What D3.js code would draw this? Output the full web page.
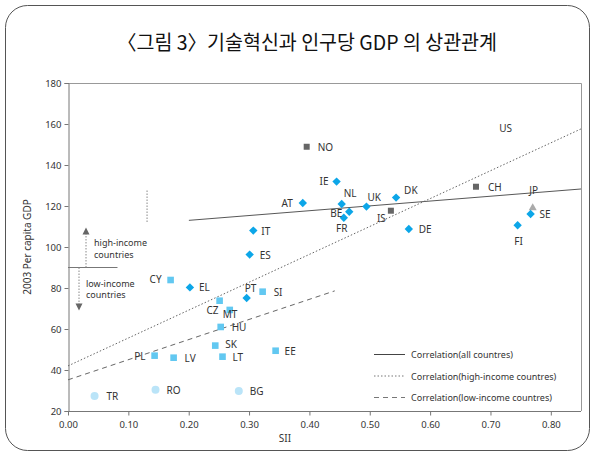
<!DOCTYPE html>
<html><head><meta charset="utf-8">
<script src="https://cdn.jsdelivr.net/npm/d3@7"></script>
<style>
html,body{margin:0;padding:0;background:#fff;}
svg text{font-family:"Noto Sans","Noto Sans CJK KR",sans-serif;fill:#333;}
</style></head>
<body>
<svg id="c" width="594" height="453"></svg>
<script>
// ---- data ----
const highIncome = [ // diamonds
  ["AT",0.389,121.5],["IE",0.445,131.9],["NL",0.4535,121],["BE",0.466,117.2],["FR",0.457,114.3],
  ["UK",0.4945,119.7],["DK",0.5436,124.1],["DE",0.5647,108.8],["FI",0.745,110.6],["SE",0.7665,116.1],
  ["IT",0.307,108],["ES",0.301,96.3],["EL",0.202,80.3],["PT",0.296,75.1]
];
const nonEU = [["NO",0.3955,148.9],["IS",0.535,117.7],["CH",0.676,129.4]]; // grey squares
const japan = [["JP",0.770,119.4]]; // triangle
const newMembers = [ // light blue squares
  ["CY",0.170,83.9],["CZ",0.2512,73.8],["MT",0.268,69.3],["SI",0.3225,78.2],["HU",0.253,61],
  ["SK",0.244,51.9],["LT",0.256,46.5],["LV",0.175,46],["PL",0.1435,47],["EE",0.344,49.4]
];
const candidates = [["TR",0.044,27.3],["RO",0.145,30.4],["BG",0.283,29.8]]; // circles
const usLabel = [["US",0.725,156]];
const lineAll = [[0.2003,113.0],[0.85,128.3]];
const lineHigh = [[0,42.0],[0.85,157.6]];
const lineLow = [[0,35.2],[0.442,78.6]];
const xTicks = [0,0.1,0.2,0.3,0.4,0.5,0.6,0.7,0.8];
const yTicks = [20,40,60,80,100,120,140,160,180];
const legendItems = ["Correlation(all countres)","Correlation(high-income countres)","Correlation(low-income countres)"];

// label placement (dx, dy, anchor)
const labelPos = {
  AT:[-10,4,"end"], IE:[-8,3,"end"], NL:[2,-7,"start"], BE:[-7,5,"end"], FR:[-2,14,"middle"],
  UK:[1,-6,"start"], DK:[8,-4,"start"], DE:[10,4,"start"], FI:[1,20,"middle"], SE:[9,4,"start"],
  IT:[8,4,"start"], ES:[10,4,"start"], EL:[9,4,"start"], PT:[-2,-6,"start"],
  NO:[11,4,"start"], IS:[-14,11,"start"], CH:[12,4,"start"], JP:[1,-13,"middle"],
  CY:[-9,3,"end"], CZ:[-1,13,"end"], MT:[-7,8,"start"], SI:[11,4,"start"], HU:[11,4,"start"],
  SK:[10,2,"start"], LT:[10,4,"start"], LV:[11,4,"start"], PL:[-9,4,"end"], EE:[9,4,"start"],
  TR:[12,4,"start"], RO:[11,4,"start"], BG:[11,4,"start"], US:[0,0,"middle"]
};

const svg = d3.select("#c");
// frame
svg.append("rect").attr("x",5.5).attr("y",5.5).attr("width",584).attr("height",445)
  .attr("rx",22).attr("fill","none").attr("stroke","#555").attr("stroke-width",1);
svg.append("text").attr("x",307).attr("y",50).attr("text-anchor","middle")
  .style("font-family","'Noto Sans CJK KR',sans-serif").style("font-size","20px").style("fill","#111")
  .attr("textLength",380).attr("lengthAdjust","spacingAndGlyphs")
  .text("〈그림 3〉기술혁신과 인구당 GDP 의 상관관계");

const L=68, R=581, T=83, B=411;
const x = d3.scaleLinear().domain([0,0.85]).range([L,R]);
const y = d3.scaleLinear().domain([20,180]).range([B,T]);

// frame of plot
svg.append("path").attr("d",`M${L},${T+0.5}H${R+0.5}V${B}`).attr("fill","none").attr("stroke","#999");

const gx = svg.append("g").attr("transform",`translate(0,${B+0.5})`)
  .call(d3.axisBottom(x).tickValues(xTicks).tickFormat(d3.format(".2f")).tickSize(4).tickPadding(6));
const gy = svg.append("g").attr("transform",`translate(${L+0.5},0)`)
  .call(d3.axisLeft(y).tickValues(yTicks).tickSize(4).tickPadding(3));
[gx,gy].forEach(g=>{
  g.select(".domain").attr("stroke","#777");
  g.selectAll(".tick line").attr("stroke","#777");
  g.selectAll("text").style("font-size","9.5px").style("fill","#333").style("font-family","'Noto Sans',sans-serif");
});
gx.select(".domain").attr("d",`M${L},0H${R}`);

svg.append("text").attr("x",285).attr("y",442).attr("text-anchor","middle").style("font-size","10px").text("SII");
svg.append("text").attr("transform","translate(31,247) rotate(-90)").attr("text-anchor","middle")
  .style("font-size","10px").text("2003 Per capita GDP");

// regression lines
const line = d3.line().x(d=>x(d[0])).y(d=>y(d[1]));
svg.append("path").attr("d",line(lineAll)).attr("stroke","#444").attr("fill","none").attr("stroke-width",0.9);
svg.append("path").attr("d",line(lineHigh)).attr("stroke","#666").attr("fill","none").attr("stroke-width",1).attr("stroke-dasharray","1.5,2");
svg.append("path").attr("d",line(lineLow)).attr("stroke","#666").attr("fill","none").attr("stroke-width",1).attr("stroke-dasharray","5,4");

// annotations: income split
svg.append("line").attr("x1",x(0)).attr("x2",x(0.082)).attr("y1",y(90)).attr("y2",y(90)).attr("stroke","#777");
svg.append("line").attr("x1",x(0.131)).attr("x2",x(0.131)).attr("y1",y(112.2)).attr("y2",y(127.8)).attr("stroke","#888").attr("stroke-dasharray","1.5,1.5");
svg.append("line").attr("x1",86).attr("x2",86).attr("y1",y(90)).attr("y2",y(107.5)).attr("stroke","#888").attr("stroke-dasharray","1.5,1.5");
svg.append("path").attr("d",`M86,${y(109.5)}l-3.5,7h7z`).attr("fill","#666");
svg.append("line").attr("x1",79).attr("x2",79).attr("y1",y(90)).attr("y2",y(71)).attr("stroke","#888").attr("stroke-dasharray","1.5,1.5");
svg.append("path").attr("d",`M79,${y(69)}l-3.5,-7h7z`).attr("fill","#666");
const annoFont = "9px";
svg.append("text").attr("x",94).attr("y",246).style("font-size",annoFont).text("high-income");
svg.append("text").attr("x",94).attr("y",257.5).style("font-size",annoFont).text("countries");
svg.append("text").attr("x",86).attr("y",286.5).style("font-size",annoFont).text("low-income");
svg.append("text").attr("x",86).attr("y",298).style("font-size",annoFont).text("countries");

// markers
const g = svg.append("g");
function labels(data){
  g.selectAll(null).data(data).enter().append("text")
   .attr("x",d=>x(d[1])+labelPos[d[0]][0]).attr("y",d=>y(d[2])+labelPos[d[0]][1])
   .attr("text-anchor",d=>labelPos[d[0]][2]).style("font-size","10px").style("fill","#333").text(d=>d[0]);
}
g.selectAll(null).data(candidates).enter().append("circle")
  .attr("cx",d=>x(d[1])).attr("cy",d=>y(d[2])).attr("r",4).attr("fill","#bae4f8");
g.selectAll(null).data(newMembers).enter().append("rect")
  .attr("x",d=>x(d[1])-3.3).attr("y",d=>y(d[2])-3.3).attr("width",6.6).attr("height",6.6).attr("fill","#62c8f1");
g.selectAll(null).data(nonEU).enter().append("rect")
  .attr("x",d=>x(d[1])-3).attr("y",d=>y(d[2])-3).attr("width",6).attr("height",6).attr("fill","#666");
g.selectAll(null).data(japan).enter().append("path")
  .attr("d",d=>`M${x(d[1])},${y(d[2])-4}l4,7h-8z`).attr("fill","#aaa");
g.selectAll(null).data(highIncome).enter().append("path")
  .attr("d",d=>{const cx=x(d[1]),cy=y(d[2]),r=4.2;return `M${cx},${cy-r}L${cx+r},${cy}L${cx},${cy+r}L${cx-r},${cy}Z`;})
  .attr("fill","#0ca6e8");
labels(candidates);labels(newMembers);labels(nonEU);labels(japan);labels(highIncome);labels(usLabel);

// legend
const lg = svg.append("g");
const dash = [null,"1.5,2","5,4"];
legendItems.forEach((t,i)=>{
  const yy = 354.5+i*21.5;
  lg.append("line").attr("x1",374).attr("x2",405).attr("y1",yy).attr("y2",yy)
    .attr("stroke",i==0?"#444":"#777").attr("stroke-dasharray",dash[i]);
  lg.append("text").attr("x",411).attr("y",yy+3.5).style("font-size","9px").style("fill","#333").text(t);
});
</script>
</body></html>
